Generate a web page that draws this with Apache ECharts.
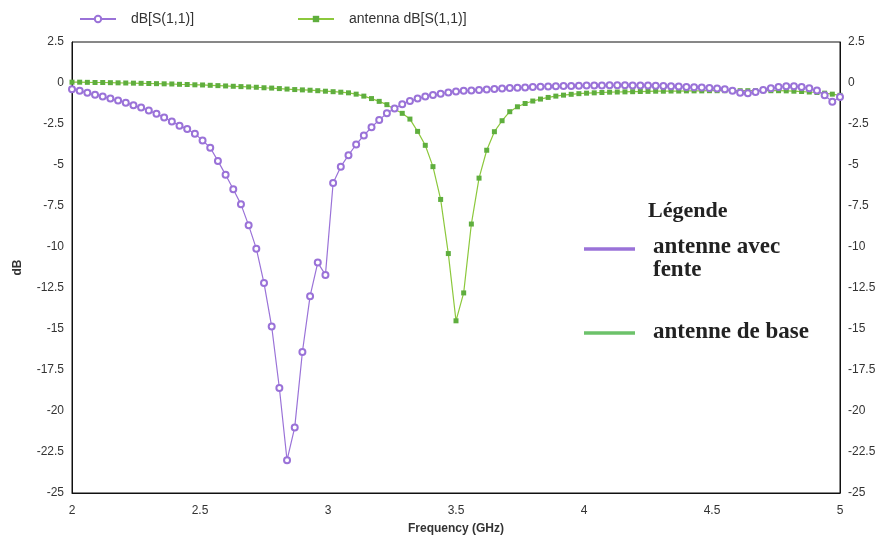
<!DOCTYPE html>
<html>
<head>
<meta charset="utf-8">
<title>S11 – antenne</title>
<script src="https://cdn.jsdelivr.net/npm/echarts@6/dist/echarts.min.js"></script>
<style>
  html, body { margin: 0; padding: 0; background: #ffffff; }
  #chart { width: 885px; height: 544px; }
</style>
</head>
<body>
<div id="chart"></div>
<script>
// Frequency sweep (GHz), 2 to 5 GHz in 30 MHz steps
const freqGHz = [
  2.00, 2.03, 2.06, 2.09, 2.12, 2.15, 2.18, 2.21, 2.24, 2.27,
  2.30, 2.33, 2.36, 2.39, 2.42, 2.45, 2.48, 2.51, 2.54, 2.57,
  2.60, 2.63, 2.66, 2.69, 2.72, 2.75, 2.78, 2.81, 2.84, 2.87,
  2.90, 2.93, 2.96, 2.99, 3.02, 3.05, 3.08, 3.11, 3.14, 3.17,
  3.20, 3.23, 3.26, 3.29, 3.32, 3.35, 3.38, 3.41, 3.44, 3.47,
  3.50, 3.53, 3.56, 3.59, 3.62, 3.65, 3.68, 3.71, 3.74, 3.77,
  3.80, 3.83, 3.86, 3.89, 3.92, 3.95, 3.98, 4.01, 4.04, 4.07,
  4.10, 4.13, 4.16, 4.19, 4.22, 4.25, 4.28, 4.31, 4.34, 4.37,
  4.40, 4.43, 4.46, 4.49, 4.52, 4.55, 4.58, 4.61, 4.64, 4.67,
  4.70, 4.73, 4.76, 4.79, 4.82, 4.85, 4.88, 4.91, 4.94, 4.97,
  5.00
];

// dB[S(1,1)] – antenne avec fente
const s11Slot = [
  -0.38, -0.48, -0.60, -0.72, -0.83, -0.95, -1.07, -1.20, -1.35, -1.50,
  -1.68, -1.88, -2.10, -2.35, -2.60, -2.80, -3.10, -3.50, -3.95, -4.75,
  -5.60, -6.48, -7.40, -8.68, -10.10, -12.20, -14.85, -18.60, -23.00, -21.00,
  -16.40, -13.00, -10.95, -11.70, -6.10, -5.10, -4.40, -3.75, -3.20, -2.70,
  -2.25, -1.85, -1.55, -1.30, -1.10, -0.95, -0.83, -0.73, -0.65, -0.58,
  -0.52, -0.48, -0.45, -0.42, -0.39, -0.36, -0.33, -0.31, -0.29, -0.27,
  -0.25, -0.23, -0.21, -0.20, -0.19, -0.18, -0.17, -0.16, -0.15, -0.15,
  -0.14, -0.14, -0.14, -0.15, -0.15, -0.16, -0.17, -0.18, -0.20, -0.22,
  -0.24, -0.26, -0.28, -0.30, -0.33, -0.38, -0.48, -0.60, -0.62, -0.55,
  -0.42, -0.32, -0.25, -0.20, -0.20, -0.24, -0.32, -0.45, -0.75, -1.15,
  -0.85
];

// antenna dB[S(1,1)] – antenne de base
const s11Base = [
  0.05, 0.05, 0.04, 0.03, 0.03, 0.02, 0.01, 0.00, -0.01, -0.02,
  -0.03, -0.04, -0.05, -0.06, -0.08, -0.09, -0.11, -0.12, -0.14, -0.16,
  -0.18, -0.20, -0.22, -0.24, -0.26, -0.29, -0.31, -0.34, -0.37, -0.40,
  -0.42, -0.44, -0.47, -0.50, -0.53, -0.56, -0.60, -0.68, -0.80, -0.95,
  -1.12, -1.32, -1.60, -1.85, -2.20, -2.95, -3.80, -5.10, -7.10, -10.40,
  -14.50, -12.80, -8.60, -5.80, -4.10, -2.97, -2.30, -1.75, -1.45, -1.25,
  -1.10, -0.98, -0.88, -0.80, -0.74, -0.69, -0.65, -0.62, -0.60, -0.58,
  -0.56, -0.55, -0.54, -0.53, -0.52, -0.51, -0.50, -0.50, -0.49, -0.49,
  -0.48, -0.48, -0.48, -0.47, -0.47, -0.47, -0.47, -0.47, -0.47, -0.47,
  -0.47, -0.47, -0.47, -0.48, -0.50, -0.52, -0.55, -0.58, -0.62, -0.68,
  -0.75
];

// Axis ticks
const xTicks = [2, 2.5, 3, 3.5, 4, 4.5, 5];
const yTicks = [2.5, 0, -2.5, -5, -7.5, -10, -12.5, -15, -17.5, -20, -22.5, -25];

const seriesNames = ['dB[S(1,1)]', 'antenna dB[S(1,1)]'];
const annotLabels = ['Légende', 'antenne avec', 'fente', 'antenne de base'];

const PURPLE = '#9a72d8';
const GREEN_LINE = '#8cc83c';
const GREEN_MARK = '#5fae3e';
const SANS = '"Liberation Sans", Arial, sans-serif';
const SERIF = '"Liberation Serif", "Times New Roman", serif';

const pairs = vals => freqGHz.map((f, i) => [f, vals[i]]);

const yAxisCommon = {
  type: 'value',
  min: yTicks[yTicks.length - 1],
  max: yTicks[0],
  interval: 2.5,
  splitLine: { show: false },
  axisTick: { show: false },
  axisLine: { show: true, onZero: false, lineStyle: { color: '#111', width: 1 } },
  axisLabel: { color: '#333', fontFamily: SANS, fontSize: 12, margin: 8 }
};

const chart = echarts.init(document.getElementById('chart'), null, { renderer: 'canvas' });

chart.setOption({
  backgroundColor: '#ffffff',
  animation: false,
  grid: {
    left: 72, right: 45, top: 42, bottom: 51,
    show: true, borderColor: '#111', borderWidth: 1, backgroundColor: 'transparent'
  },
  legend: [
    {
      data: [seriesNames[0]], left: 74, top: 7,
      itemWidth: 36, itemHeight: 8,
      textStyle: { color: '#333', fontFamily: SANS, fontSize: 14, padding: [0, 0, 0, 10] }
    },
    {
      data: [seriesNames[1]], left: 292, top: 7,
      itemWidth: 36, itemHeight: 8,
      textStyle: { color: '#333', fontFamily: SANS, fontSize: 14, padding: [0, 0, 0, 10] }
    }
  ],
  xAxis: {
    type: 'value',
    min: xTicks[0],
    max: xTicks[xTicks.length - 1],
    interval: 0.5,
    name: 'Frequency (GHz)',
    nameLocation: 'middle',
    nameGap: 30,
    nameTextStyle: { color: '#333', fontFamily: SANS, fontSize: 12, fontWeight: 'bold' },
    splitLine: { show: false },
    axisTick: { show: false },
    axisLine: { show: true, onZero: false, lineStyle: { color: '#111', width: 1 } },
    axisLabel: { color: '#333', fontFamily: SANS, fontSize: 12, margin: 12 }
  },
  yAxis: [
    Object.assign({}, yAxisCommon, {
      position: 'left',
      name: 'dB',
      nameLocation: 'middle',
      nameGap: 48,
      nameTextStyle: { color: '#333', fontFamily: SANS, fontSize: 12, fontWeight: 'bold' }
    }),
    Object.assign({}, yAxisCommon, { position: 'right' })
  ],
  series: [
    {
      name: seriesNames[0],
      type: 'line',
      yAxisIndex: 0,
      data: pairs(s11Slot),
      showAllSymbol: true,
      symbol: 'emptyCircle',
      symbolSize: 6,
      lineStyle: { color: PURPLE, width: 1.2 },
      itemStyle: { color: PURPLE, borderColor: PURPLE, borderWidth: 1.2 },
      z: 3
    },
    {
      name: seriesNames[1],
      type: 'line',
      yAxisIndex: 0,
      data: pairs(s11Base),
      showAllSymbol: true,
      symbol: 'rect',
      symbolSize: 5,
      lineStyle: { color: GREEN_LINE, width: 1.2 },
      itemStyle: { color: GREEN_MARK, borderColor: GREEN_MARK, borderWidth: 0 },
      z: 2
    }
  ],
  graphic: [
    {
      type: 'text', left: 648, top: 200,
      style: { text: annotLabels[0], fill: '#222', font: 'bold 22px ' + SERIF }
    },
    {
      type: 'line', shape: { x1: 584, y1: 249, x2: 635, y2: 249 },
      style: { stroke: PURPLE, lineWidth: 3.5 }
    },
    {
      type: 'text', left: 653, top: 236,
      style: { text: annotLabels[1], fill: '#222', font: 'bold 23px ' + SERIF }
    },
    {
      type: 'text', left: 653, top: 259,
      style: { text: annotLabels[2], fill: '#222', font: 'bold 23px ' + SERIF }
    },
    {
      type: 'line', shape: { x1: 584, y1: 333, x2: 635, y2: 333 },
      style: { stroke: '#6cc26a', lineWidth: 3.5 }
    },
    {
      type: 'text', left: 653, top: 321,
      style: { text: annotLabels[3], fill: '#222', font: 'bold 23px ' + SERIF }
    }
  ]
});
</script>
</body>
</html>
